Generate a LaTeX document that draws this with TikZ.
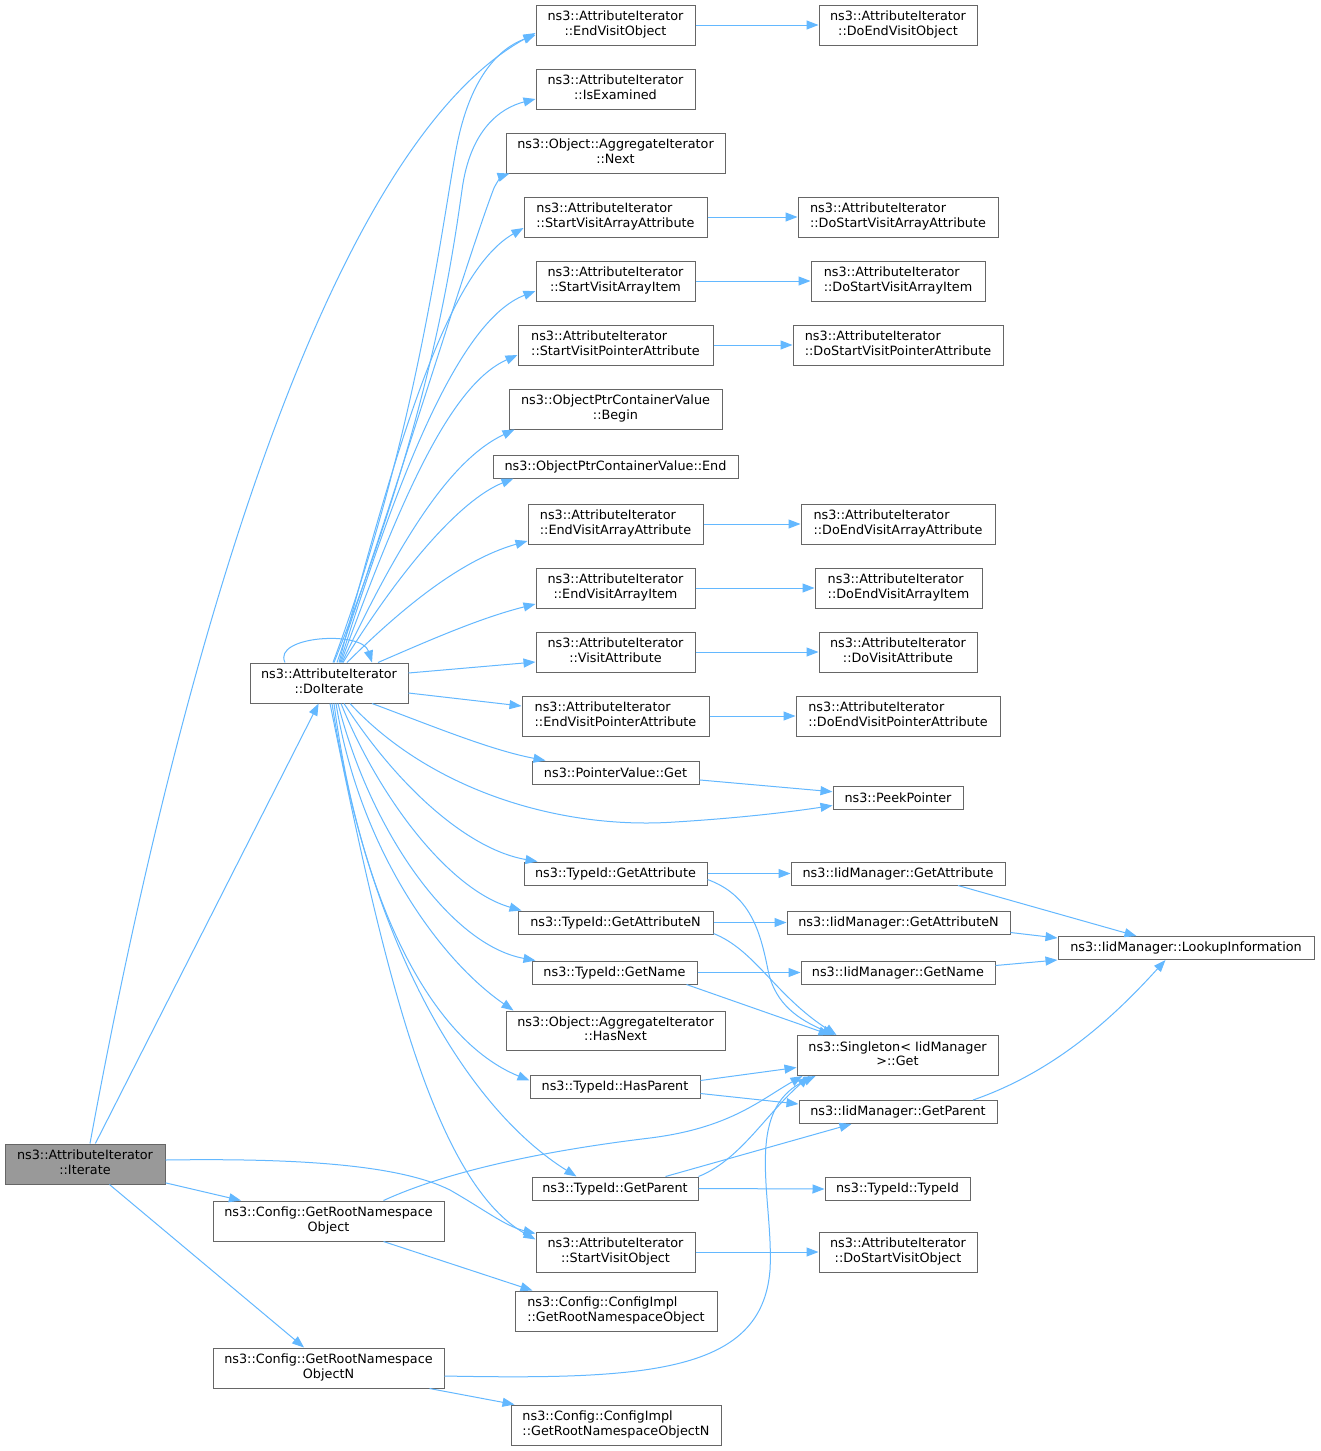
\documentclass[tikz,border=0pt]{standalone}
\usepackage{fontspec}
\setmainfont{DejaVu Sans}
\usetikzlibrary{arrows.meta,calc}
\definecolor{edgec}{HTML}{63B8FF}
\definecolor{bordc}{HTML}{666666}
\definecolor{hlc}{HTML}{999999}
\newcommand{\dxlab}[2]{\begin{tabular}{@{}l@{}}#1\\\multicolumn{1}{@{}c@{}}{#2}\end{tabular}}
\tikzset{
  box/.style={draw=bordc, line width=1pt, fill=white, inner sep=0pt, align=center,
    font=\fontsize{12.8}{14.5}\selectfont},
  two/.style={box, minimum height=40pt},
  one/.style={box, minimum height=23pt},
  e/.style={draw=edgec, line width=1pt, -{Triangle[length=12pt,width=9pt]}},
}
\begin{document}
\begin{tikzpicture}[x=1pt,y=-1pt]
\useasboundingbox (0,0) rectangle (1320,1451);
\fill[white] (0,0) rectangle (1320,1451);
% column 1-2
\node[two,minimum width=160pt,fill=hlc] (iter) at (85,1164) {\dxlab{ns3::AttributeIterator}{::Iterate}};
\node[two,minimum width=158pt] (doit) at (329,683) {\dxlab{ns3::AttributeIterator}{::DoIterate}};
\node[two,minimum width=231pt] (grno) at (328.5,1221) {\dxlab{ns3::Config::GetRootNamespace}{Object}};
\node[two,minimum width=231pt] (grnon) at (328.5,1368) {\dxlab{ns3::Config::GetRootNamespace}{ObjectN}};
% column 3
\node[two,minimum width=159pt] (evo) at (615.5,25) {\dxlab{ns3::AttributeIterator}{::EndVisitObject}};
\node[two,minimum width=159pt] (isex) at (615.5,89) {\dxlab{ns3::AttributeIterator}{::IsExamined}};
\node[two,minimum width=219pt] (next) at (615.5,153) {\dxlab{ns3::Object::AggregateIterator}{::Next}};
\node[two,minimum width=183pt] (svaa) at (615.5,217) {\dxlab{ns3::AttributeIterator}{::StartVisitArrayAttribute}};
\node[two,minimum width=159pt] (svai) at (615.5,281) {\dxlab{ns3::AttributeIterator}{::StartVisitArrayItem}};
\node[two,minimum width=195pt] (svpa) at (615.5,345) {\dxlab{ns3::AttributeIterator}{::StartVisitPointerAttribute}};
\node[two,minimum width=213pt] (begin) at (615.5,409) {\dxlab{ns3::ObjectPtrContainerValue}{::Begin}};
\node[one,minimum width=245pt] (end) at (615.5,466.5) {ns3::ObjectPtrContainerValue::End};
\node[two,minimum width=175pt] (evaa) at (615.5,524) {\dxlab{ns3::AttributeIterator}{::EndVisitArrayAttribute}};
\node[two,minimum width=159pt] (evai) at (615.5,588) {\dxlab{ns3::AttributeIterator}{::EndVisitArrayItem}};
\node[two,minimum width=159pt] (va) at (615.5,652) {\dxlab{ns3::AttributeIterator}{::VisitAttribute}};
\node[two,minimum width=187pt] (evpa) at (615.5,716) {\dxlab{ns3::AttributeIterator}{::EndVisitPointerAttribute}};
\node[one,minimum width=167pt] (pvget) at (615.5,772.5) {ns3::PointerValue::Get};
\node[one,minimum width=183pt] (tga) at (615.5,873.5) {ns3::TypeId::GetAttribute};
\node[one,minimum width=195pt] (tgan) at (615.5,922.5) {ns3::TypeId::GetAttributeN};
\node[one,minimum width=165pt] (tgn) at (614.5,972.5) {ns3::TypeId::GetName};
\node[two,minimum width=219pt,minimum height=39pt] (hasnext) at (615.5,1030.5) {\dxlab{ns3::Object::AggregateIterator}{::HasNext}};
\node[one,minimum width=170pt] (hasparent) at (615,1086.5) {ns3::TypeId::HasParent};
\node[one,minimum width=166pt] (getparent) at (615,1188.5) {ns3::TypeId::GetParent};
\node[two,minimum width=159pt] (svo) at (615.5,1252) {\dxlab{ns3::AttributeIterator}{::StartVisitObject}};
\node[two,minimum width=202pt] (cigrno) at (616,1311) {\dxlab{ns3::Config::ConfigImpl}{::GetRootNamespaceObject}};
\node[two,minimum width=210pt] (cigrnon) at (616,1425) {\dxlab{ns3::Config::ConfigImpl}{::GetRootNamespaceObjectN}};
% column 4
\node[two,minimum width=158pt] (devo) at (898,25) {\dxlab{ns3::AttributeIterator}{::DoEndVisitObject}};
\node[two,minimum width=200pt] (dsvaa) at (898,217) {\dxlab{ns3::AttributeIterator}{::DoStartVisitArrayAttribute}};
\node[two,minimum width=174pt] (dsvai) at (898,281) {\dxlab{ns3::AttributeIterator}{::DoStartVisitArrayItem}};
\node[two,minimum width=210pt] (dsvpa) at (898,345) {\dxlab{ns3::AttributeIterator}{::DoStartVisitPointerAttribute}};
\node[two,minimum width=194pt] (devaa) at (898,524) {\dxlab{ns3::AttributeIterator}{::DoEndVisitArrayAttribute}};
\node[two,minimum width=167pt] (devai) at (898.5,588) {\dxlab{ns3::AttributeIterator}{::DoEndVisitArrayItem}};
\node[two,minimum width=158pt] (dva) at (898,652) {\dxlab{ns3::AttributeIterator}{::DoVisitAttribute}};
\node[two,minimum width=204pt] (devpa) at (898,716) {\dxlab{ns3::AttributeIterator}{::DoEndVisitPointerAttribute}};
\node[one,minimum width=130pt] (peek) at (898,797.5) {ns3::PeekPointer};
\node[one,minimum width=214pt] (iga) at (898,873.5) {ns3::IidManager::GetAttribute};
\node[one,minimum width=223pt] (igan) at (898.5,922.5) {ns3::IidManager::GetAttributeN};
\node[one,minimum width=194pt] (ign) at (898,972.5) {ns3::IidManager::GetName};
\node[two,minimum width=201pt] (sing) at (897.5,1055.5) {\dxlab{ns3::Singleton< IidManager}{>::Get}};
\node[one,minimum width=198pt] (igp) at (898,1112) {ns3::IidManager::GetParent};
\node[one,minimum width=145pt] (tid) at (897.5,1189) {ns3::TypeId::TypeId};
\node[two,minimum width=158pt] (dsvo) at (898,1252) {\dxlab{ns3::AttributeIterator}{::DoStartVisitObject}};
% column 5
\node[one,minimum width=256pt] (lookup) at (1186,948) {ns3::IidManager::LookupInformation};
% edges from Iterate
\draw[e] ([xshift=5pt]iter.north) .. controls (190,600) and (340,140) .. ([yshift=-8pt]evo.west);
\draw[e] (iter) -- (doit);
\draw[e] (iter) -- (grno);
\draw[e] (iter) -- (grnon);
\draw[e] ([yshift=4pt]iter.east) .. controls (300,1158) and (400,1165) .. (450,1190) .. controls (485,1210) and (505,1226) .. ([yshift=-2pt]svo.north west);
% edges from DoIterate
\draw[e] ([xshift=-44pt]doit.north) .. controls (272,636) and (362,630) .. ([xshift=43pt]doit.north);
\draw[e] ([xshift=4pt]doit.north) .. controls (420,430) and (445,200) .. (458,140) .. controls (472,75) and (500,48) .. ([yshift=-10pt]evo.west);
\draw[e] ([xshift=5pt]doit.north) .. controls (430,420) and (452,260) .. (462,190) .. controls (470,130) and (500,108) .. ([yshift=-10pt]isex.west);
\draw[e] ([xshift=8pt]doit.north) .. controls (400,480) and (470,250) .. (494,188) .. controls (498,180) and (502,176) .. ([xshift=4pt]next.south west);
\draw[e] ([xshift=10pt]doit.north) .. controls (400,430) and (450,270) .. ([yshift=-11pt]svaa.west);
\draw[e] ([xshift=11pt]doit.north) .. controls (400,470) and (460,320) .. ([yshift=-10pt]svai.west);
\draw[e] ([xshift=12pt]doit.north) .. controls (400,500) and (450,385) .. ([yshift=-10pt]svpa.west);
\draw[e] ([xshift=13pt]doit.north) .. controls (400,540) and (450,460) .. ([xshift=6pt]begin.south west);
\draw[e] ([xshift=14pt]doit.north) .. controls (400,570) and (460,500) .. ([xshift=21pt]end.south west);
\draw[e] ([xshift=18pt]doit.north) .. controls (400,610) and (460,560) .. ([yshift=-17pt]evaa.west);
\draw[e] ([xshift=49pt]doit.north) .. controls (430,640) and (480,618) .. ([yshift=-16pt]evai.west);
\draw[e] ([yshift=10pt]doit.east) -- ([yshift=-10pt]va.west);
\draw[e] ([yshift=-10pt]doit.east) -- ([yshift=10pt]evpa.west);
\draw[e] ([xshift=43pt]doit.south) .. controls (430,725) and (490,750) .. ([xshift=14pt]pvget.north west);
\draw[e] ([xshift=21pt]doit.south) .. controls (430,790) and (560,830) .. (675,822) .. controls (740,818) and (790,812) .. ([yshift=-8pt]peek.west);
\draw[e] ([xshift=15pt]doit.south) .. controls (400,790) and (470,850) .. ([xshift=14pt]tga.north west);
\draw[e] ([xshift=12pt]doit.south) .. controls (380,800) and (450,890) .. ([xshift=4pt]tgan.north west);
\draw[e] ([xshift=9pt]doit.south) .. controls (370,830) and (450,945) .. ([xshift=4pt]tgn.north west);
\draw[e] ([xshift=7pt]doit.south) .. controls (360,850) and (440,960) .. ([xshift=8pt]hasnext.north west);
\draw[e] ([xshift=5pt]doit.south) .. controls (360,900) and (430,1040) .. ([yshift=6pt]hasparent.west);
\draw[e] ([xshift=3pt]doit.south) .. controls (370,950) and (470,1110) .. ([xshift=45pt]getparent.north west);
\draw[e] ([xshift=1pt]doit.south) .. controls (380,950) and (430,1180) .. ([yshift=-8pt]svo.north west);
% column 3 -> column 4
\draw[e] (evo.east) -- (devo.west);
\draw[e] (svaa.east) -- (dsvaa.west);
\draw[e] (svai.east) -- (dsvai.west);
\draw[e] (svpa.east) -- (dsvpa.west);
\draw[e] (evaa.east) -- (devaa.west);
\draw[e] (evai.east) -- (devai.west);
\draw[e] (va.east) -- (dva.west);
\draw[e] (evpa.east) -- (devpa.west);
\draw[e] (svo.east) -- (dsvo.west);
\draw[e] (pvget) -- (peek);
\draw[e] (tga.east) -- (iga.west);
\draw[e] (tgan.east) -- (igan.west);
\draw[e] (tgn.east) -- (ign.west);
\draw[e] ([yshift=-6pt]tga.east) .. controls (750,895) and (760,930) .. (768,970) .. controls (775,1005) and (800,1020) .. ([xshift=38pt]sing.north west);
\draw[e] ([yshift=-11pt]tgan.east) .. controls (755,950) and (775,995) .. ([xshift=40pt]sing.north west);
\draw[e] ([xshift=-11pt]tgn.south east) -- ([xshift=34pt]sing.north west);
\draw[e] ([yshift=6pt]hasparent.east) -- ([yshift=-12pt]sing.west);
\draw[e] ([yshift=-7pt]hasparent.east) -- ([yshift=8pt]igp.west);
\draw[e] (getparent.north east) .. controls (740,1160) and (765,1115) .. ([xshift=13pt]sing.south west);
\draw[e] ([xshift=-33pt]getparent.north east) -- ([xshift=53pt]igp.south west);
\draw[e] (getparent.east) -- (tid.west);
\draw[e] ([xshift=55pt]grno.north) .. controls (450,1170) and (550,1150) .. (650,1138) .. controls (730,1128) and (760,1100) .. ([xshift=6pt]sing.south west);
\draw[e] ([yshift=-8pt]grnon.east) .. controls (650,1380) and (762,1372) .. (770,1270) .. controls (774,1200) and (742,1110) .. ([xshift=19pt]sing.south west);
\draw[e] ([xshift=55pt]grno.south) -- ([xshift=18pt]cigrno.north west);
\draw[e] ([xshift=101pt]grnon.south) -- ([xshift=4pt]cigrnon.north west);
% to LookupInformation
\draw[e] ([xshift=60pt]iga.south) -- ([xshift=79pt]lookup.north west);
\draw[e] ([yshift=-10pt]igan.east) -- ([yshift=10pt]lookup.west);
\draw[e] ([yshift=7pt]ign.east) -- ([yshift=-12pt]lookup.west);
\draw[e] ([xshift=75pt]igp.north) .. controls (1060,1070) and (1120,1010) .. ([xshift=108pt]lookup.south west);
\end{tikzpicture}
\end{document}
